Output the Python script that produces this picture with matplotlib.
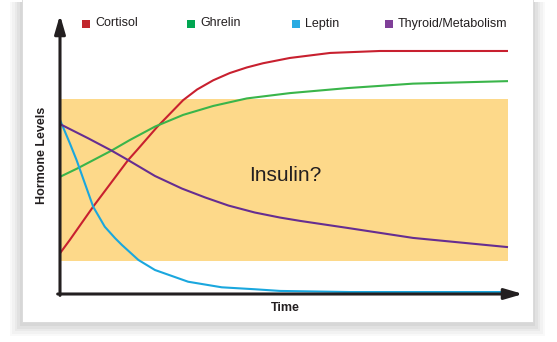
import matplotlib
matplotlib.use('Agg')
import matplotlib.pyplot as plt
from matplotlib.patches import Rectangle

plt.rcParams['font.family'] = ['Liberation Sans', 'DejaVu Sans']

# time axis 0..100, hormone level 0..100
cortisol_t = [0, 2.2, 7.4, 15.2, 17.2, 21.7, 27.5, 30.6, 34.2, 37.9, 41.7, 45.3, 51.3, 60.3, 71.4, 82.6, 100]
cortisol = [14.6, 19.4, 31.3, 48.0, 51.6, 59.9, 69.5, 73.3, 76.6, 79.2, 81.2, 82.7, 84.6, 86.4, 87.1, 87.1, 87.1]

ghrelin_t = [0, 4.0, 11.5, 15.6, 21.2, 27.5, 34.2, 41.7, 51.3, 64.1, 78.8, 100]
ghrelin = [42.0, 45.1, 51.4, 55.2, 60.0, 64.2, 67.4, 70.1, 72.0, 73.8, 75.4, 76.3]

leptin_t = [0, 2.2, 3.7, 7.4, 10.0, 12.3, 13.8, 17.5, 21.2, 28.6, 36.1, 43.5, 49.1, 64.7, 100]
leptin = [62.4, 54.0, 48.0, 31.3, 24.1, 20.0, 17.6, 12.2, 8.6, 4.4, 2.4, 1.7, 1.1, 0.7, 0.7]

thyroid_t = [0, 6.3, 11.5, 15.2, 21.2, 27.2, 32.4, 37.6, 43.5, 49.1, 53.6, 64.1, 78.8, 100]
thyroid = [60.9, 55.8, 51.4, 48.0, 42.3, 37.8, 34.6, 31.7, 29.2, 27.4, 26.2, 23.7, 20.1, 16.8]

insulin_low, insulin_high = 11.8, 69.9

names = ['Cortisol', 'Ghrelin', 'Leptin', 'Thyroid/Metabolism']
square_colors = ['#C1272D', '#00A651', '#29ABE2', '#7F3F98']
line_colors = ['#C8202F', '#3AB54A', '#1AA7DE', '#662D91']
legend_x = [82, 187, 292, 385]  # pixel positions of legend squares

W, H = 557, 342
fig = plt.figure(figsize=(W / 100, H / 100), dpi=100)
fig.patch.set_facecolor('white')

# card shadow + card
for i, a in enumerate([0.04, 0.05, 0.06, 0.07, 0.09]):
    g = 12 - 2.4 * i
    fig.patches.append(Rectangle(((22 - g) / W, (20 - g - 2) / H), (511 + 2 * g) / W, (322 + g) / H,
                                 transform=fig.transFigure, facecolor='#777777', edgecolor='none',
                                 alpha=a, zorder=0))
fig.patches.append(Rectangle((22 / W, 20 / H), 511 / W, 323 / H, transform=fig.transFigure,
                             facecolor='white', edgecolor='#D8D8D8', lw=0.6, zorder=1))

ax = fig.add_axes([60 / W, (H - 294) / H, 463 / W, 279 / H])
ax.set_zorder(2)
ax.patch.set_visible(False)
ax.set_xlim(0, 463 / 4.48)
ax.set_ylim(0, 100)
for s in ax.spines.values():
    s.set_visible(False)
ax.set_xticks([])
ax.set_yticks([])

ax.fill_between([0, 100], insulin_low, insulin_high, color='#FDD98A', lw=0, zorder=1)
ax.text(50.3, 42.5, 'Insulin?', fontsize=15, color='#231F20', ha='center', va='center', zorder=2)

series = [(cortisol_t, cortisol), (ghrelin_t, ghrelin), (leptin_t, leptin), (thyroid_t, thyroid)]
for (t, v), c in zip(series, line_colors):
    ax.plot(t, v, color=c, lw=1.5, zorder=3, clip_on=False, solid_capstyle='butt',
            solid_joinstyle='round')

arrow = dict(arrowstyle='-|>,head_length=1.1,head_width=0.32', lw=2.2, color='#231F20',
             shrinkA=0, shrinkB=0, mutation_scale=10)
ax.annotate('', xy=(1, 0), xytext=(-0.005, 0), xycoords='axes fraction', arrowprops=arrow, zorder=4)
ax.annotate('', xy=(0, 1), xytext=(0, -0.005), xycoords='axes fraction', arrowprops=arrow, zorder=4)

fig.text(42 / W, 1 - 155 / H, 'Hormone Levels', rotation=90, fontsize=9, fontweight='bold',
         color='#231F20', ha='center', va='center')
fig.text(285 / W, 1 - 308 / H, 'Time', fontsize=9, fontweight='bold', color='#231F20',
         ha='center', va='center')

# legend row
for name, c, x in zip(names, square_colors, legend_x):
    fig.patches.append(Rectangle((x / W, 1 - 27.5 / H), 8 / W, 8 / H, transform=fig.transFigure,
                                 facecolor=c, edgecolor='none', zorder=5))
    fig.text((x + 13) / W, 1 - 23.5 / H, name, fontsize=9, color='#231F20', ha='left', va='center')

fig.savefig('out.png', dpi=100)
